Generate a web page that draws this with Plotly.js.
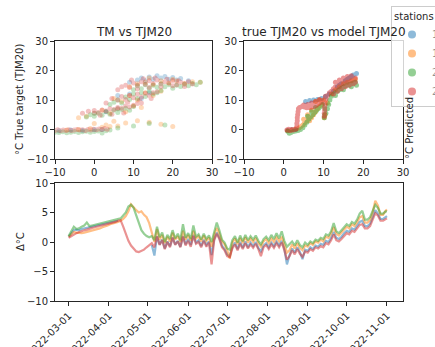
<!DOCTYPE html>
<html><head><meta charset="utf-8">
<script src="https://cdn.plot.ly/plotly-3.0.1.min.js"></script>
<style>html,body{margin:0;padding:0;background:#fff;overflow:hidden;width:435px;height:347px}#plot{width:480px;height:347px}</style>
</head><body><div id="plot"></div>
<script>
const stations = ['1101', '1701', '2001', '2701'];
const colors = ['#1f77b4', '#ff7f0e', '#2ca02c', '#d62728'];

// ---- TM vs TJM20 (top-left) ----
const tmBlue = [-9,-6,-3,0,2, 0,3,6, 6,9,12,14, 9,11,12,13,14,15,16,17,18,19,20,21,22,24];
const tjBlue = [-0.4,-0.2,-0.3,-0.1,0.0, 5.5,6.0,7.0, 11.5,12.0,10.5,12.5, 16.0,16.8,17.5,16.5,17.8,17.0,18.2,17.5,18.0,17.0,17.6,16.8,17.3,16.5];
const tmOrange = [-7,-4,-1,2,4,6, 0,3,5,8,11,14,17,20, -4,-2,0,2,4,6,8,10,12, 5,7,9,11,13,15,17, 9,11,13,15,17,19,21,23,25,27,14,20];
const tjOrange = [-0.2,0.0,0.3,0.8,1.0,1.2, 2.0,1.5,2.8,2.2,3.0,2.5,1.8,1.0, 4.0,4.5,5.5,6.5,5.5,7.0,6.0,8.0,7.5, 10.5,9.5,11.5,10.0,12.5,11.5,13.0, 14.5,15.5,16.0,15.2,16.5,15.8,16.4,15.6,16.2,16.0,17.5,17.0];
const tmGreen = [-10,-9,-8,-7,-6,-5,-4,-3,-2,-1,0,1,2,3,4, 6,10,14,18, -2,-1,0,1,2,3,4,5,6,7,8,9,10, 4,5,6,7,8,9,10,11,12,13,14,15,16,17, 10,11,12,13,14,15,16,17,18,19,20,21,22,23,24,25,26,27];
const tjGreen = [-0.9,-1.0,-0.8,-1.1,-0.9,-0.7,-1.0,-0.8,-0.6,-0.9,-0.7,-0.5,-1.2,-0.4,-0.2, 0.5,1.2,2.0,1.5, 4.2,5.0,4.5,5.5,4.8,6.0,5.2,6.5,5.8,6.8,7.2,6.5,7.8, 8.5,9.2,10,9.0,11.0,10.2,12.0,10.5,12.5,11.2,13.0,12.0,12.5,13.2, 13.5,14.8,13.8,15.2,14.0,15.0,14.3,15.5,14.5,15.2,14.0,15.0,14.6,15.3,14.8,15.6,15.2,16.0];
const tmRed = [-10,-9.3,-8.6,-7.9,-7.2,-6.5,-5.8,-5.1,-4.4,-3.7,-3,-2.3,-1.6,-0.9,-0.2,0.5,1.2,1.9,2.6,3.3,
  -3,-1.5,0,1,2,3,4,5,6,7,8,9,10,11,12,1.5,4.5,7.5,
  3,4.5,6,7,8,9,10,11,12,13,14,15,16,8.5,11.5,14.5,
  6,7,8,9,10,11,12,13,14,15,16,17,18,19,20,21,22,23,24,25,9.5,12.5,15.5,18.5,21.5,11,14,17,20,23];
const tjRed = [-0.3,-0.1,-0.4,-0.2,-0.3,-0.1,-0.3,-0.2,0.0,-0.2,-0.1,-0.3,0.0,-0.2,0.1,-0.1,0.2,0.0,0.3,0.1,
  5.5,6.2,6.4,5.8,6.6,6.3,7.0,6.8,7.5,7.2,8.0,7.6,8.2,8.8,9.0,4.8,5.2,5.6,
  9.0,10.5,10.0,11.2,10.2,11.5,10.8,12.0,11.0,12.3,11.5,12.5,12.8,9.2,9.8,10.5,
  13.5,14.5,15.0,14.2,15.8,15.0,16.2,15.3,16.5,15.6,16.8,15.4,16.2,15.8,16.6,15.2,16.0,15.5,16.2,15.4,16.8,17.2,17.5,17.0,16.5,13.8,14.2,14.5,14.8,14.6];

// ---- true TJM20 vs model TJM20 (top-right) ----
const trueBlue = [1,2,3,5.5,6.5,7.5,8.5,9.5,10.5,11.5,12.5,13.5,14.5,15.5,16.5,17.5,18.3,17,16,14];
const predBlue = [-0.3,-0.1,0,9.5,9.8,10,10.2,10.5,11.2,12,13,14.5,15.5,16.5,17.5,18.5,19,18,17,15];
const trueOrange = [1,2,3,3.8,4.3,4.8,5.2,5.6,6,6.5,7,7.5,8,5,6,7,8.5,9,9.5,10,10.2,10.4,11,12,13,14,15,16,17,18,8,9];
const predOrange = [-0.4,-0.2,0.2,0.5,1,1.5,2.2,2.8,3.5,3,4,5,6,3.5,5,6.5,7,8,8.5,10,4,5,9,12,13.5,14.5,15.5,16,16.5,17,9.5,10];
const trueGreen = [1,1.4,1.8,2.4,3,3.6,4.2, 4.8,5.3,5.8,6.3,6.8,7.3,7.8,8.3,8.8,9.3,9.8,6,7,8, 10.2,10.6,11,11.3,11.6,12,10.3,10.4, 12.5,13,13.5,14,14.5,15,15.5,16,16.5,17,17.5,18,18.3,17,15,13];
const predGreen = [-0.6,-1.3,-1.0,-0.7,-0.5,-0.3,0, 0.6,1.5,2.5,3.5,4.3,5.0,5.8,6.5,7.2,7.8,8.5,4.5,6,7.5, 4,5.5,7,8.5,10,11.3,5,7, 12,12.5,13,13.5,14,14.3,14.8,15,15.3,15.5,15.8,16,15,14.5,13.5,11.5];
const trueRed = [0.8,1.2,1.6,2.0,2.4,2.8,3.1, 3.3,3.3,3.4,3.4,3.5,3.6,3.7,
  4,4.6,5.2,5.8,6.4,7,7.6,8.2,8.8,9.4,10,10.6,6,7,8,9,5,
  10.2,10.2,10.3,10.3,10.4,10.4,10.5,10.5,
  11,11.5,12,12.5,13,13.5,14,14.5,15,15.5,16,16.5,17,17.5,18,12.5,13.5,14.5,15.5,16.5,17.5,13,14,15,16,17,18];
const predRed = [-0.2,0.1,-0.3,0.0,-0.2,0.1,0.2, 1,2,3,4,5,6,7,
  7.5,7.8,7.6,7.4,7.5,7.6,7.8,8.2,8.8,9.2,9.8,10.4,8.5,9,9.5,10.2,8.3,
  4.5,5.5,6.5,7.5,8.5,9.5,10.5,11.3,
  11.5,12.5,13,13.8,14.5,14,15.5,15,16.2,15.5,16.8,16,17.3,16.5,17.5,12,13,13.8,14.5,15,15.5,16,16.8,17.5,18,18.2,16];

// ---- Delta over time (bottom) ----
const monthDays = [
'03-01','03-03','03-05','03-07','03-09','03-11','03-13','03-15','03-17','03-19','03-21','03-23','03-25','03-27','03-29','03-31',
'04-02','04-04','04-06','04-08','04-10','04-12','04-14','04-16','04-18','04-20','04-22','04-24','04-26','04-28','04-30',
'05-02','05-04','05-06','05-08','05-10','05-12','05-14','05-16','05-18','05-20','05-22','05-24','05-26','05-28','05-30',
'06-01','06-03','06-05','06-07','06-09','06-11','06-13','06-15','06-17','06-19','06-21','06-23','06-25','06-27','06-29',
'07-01','07-03','07-05','07-07','07-09','07-11','07-13','07-15','07-17','07-19','07-21','07-23','07-25','07-27','07-29','07-31',
'08-02','08-04','08-06','08-08','08-10','08-12','08-14','08-16','08-18','08-20','08-22','08-24','08-26','08-28','08-30',
'09-01','09-03','09-05','09-07','09-09','09-11','09-13','09-15','09-17','09-19','09-21','09-23','09-25','09-27','09-29',
'10-01','10-03','10-05','10-07','10-09','10-11','10-13','10-15','10-17','10-19','10-21','10-23','10-25','10-27','10-29','10-31','11-01'];
const dates = monthDays.map(d => '2022-' + d);

const dBlue = [
0.9,1.5,2.0,2.1,2.0,2.2,2.3,2.4,2.5,2.6,2.7,2.8,2.9,3.0,3.1,3.2,
3.3,3.4,3.5,3.6,null,null,null,null,null,null,null,null,null,null,null,
null,-0.5,-2.3,1.0,-0.4,0.4,-1.1,0.1,-0.7,0.8,-0.4,0.2,-0.8,1.0,-0.4,
0.5,-0.5,1.2,-0.1,0.3,-0.7,0.4,-0.5,0.1,-2.2,0.5,1.6,0.7,-0.6,-1.2,
-2.1,-2.4,-0.8,-0.1,-1.2,0.0,-1.0,0.1,-0.9,-0.1,-0.7,0.0,-1.0,-1.6,-0.6,-0.2,
-0.9,-0.1,-0.7,0.1,-0.6,0.2,-1.1,-3.8,-2.2,-1.1,-1.8,-0.9,-1.7,-2.9,-1.3,
-1.5,-0.9,-1.2,-0.6,-0.8,-0.3,-0.5,0.2,0.0,0.7,1.7,0.7,0.5,0.9,1.5,
1.9,1.7,2.3,2.1,2.7,3.4,3.6,2.7,2.7,3.1,4.2,5.4,4.8,3.9,3.9,4.3,4.4];
const dOrange = [
0.9,1.3,1.7,1.6,1.5,1.5,1.6,1.7,1.8,1.9,2.0,2.2,2.3,2.5,2.6,2.8,
3.0,3.1,3.3,3.4,3.6,3.9,4.4,5.2,6.4,5.8,5.4,5.0,5.2,4.6,4.2,
3.2,1.8,0.0,2.2,0.4,1.2,-0.2,0.9,0.1,1.6,0.4,1.0,0.0,1.9,0.4,
1.2,0.2,1.9,0.6,1.0,0.1,1.1,0.2,0.8,-0.8,1.2,2.4,1.4,0.1,-0.4,
-1.4,-2.8,-0.1,0.6,-0.4,0.7,-0.2,0.8,-0.1,0.6,0.0,0.7,-0.2,-0.8,0.1,0.5,
-0.2,0.6,0.0,0.8,0.1,0.9,-0.4,-1.8,-1.4,-0.4,-1.1,-0.2,-1.0,-1.4,-0.6,
-0.8,-0.2,-0.5,0.1,-0.1,0.4,0.1,0.9,0.7,1.4,2.5,1.4,1.1,1.6,2.2,
2.6,2.3,3.0,2.7,3.3,4.2,4.4,3.3,3.3,3.7,5.0,7.0,6.2,4.6,4.6,5.3,5.5];
const dGreen = [
1.0,1.8,2.6,2.2,2.3,2.6,2.8,3.3,2.7,2.8,2.9,3.0,3.1,3.2,3.3,3.4,
3.5,3.6,3.7,3.9,4.0,4.5,5.0,6.0,6.3,5.8,4.5,3.0,2.0,1.4,1.0,
0.8,1.0,0.3,2.6,0.8,1.6,0.0,1.2,0.5,2.0,0.6,1.4,0.3,3.0,0.7,
1.5,0.5,2.8,0.9,1.3,0.4,1.4,0.5,1.1,0.0,1.6,3.3,2.0,0.4,-0.1,
-1.1,-1.3,0.3,1.0,-0.1,1.1,0.1,1.2,0.3,1.0,0.4,1.1,0.2,-0.4,0.5,0.9,
0.3,1.2,0.5,1.5,0.6,1.8,0.2,-0.8,-0.4,0.1,-0.6,0.3,-0.5,-0.9,-0.1,
-0.5,0.1,-0.2,0.4,0.2,0.7,0.5,1.3,1.1,1.8,3.2,1.8,1.5,2.0,2.6,
3.0,2.7,3.4,3.1,3.8,4.8,5.3,3.8,3.8,4.2,5.3,6.3,5.8,4.8,4.8,5.2,5.2];
const dRed = [
0.7,1.0,1.3,1.5,1.7,1.9,2.0,2.1,2.3,2.4,2.5,2.6,2.7,2.8,2.9,3.0,
3.1,3.2,3.4,3.6,3.7,2.6,1.2,0.2,-0.6,-1.2,-1.6,-1.7,-1.5,-1.3,-0.9,
-0.6,-0.2,-0.9,0.9,-0.5,0.3,-1.2,0.0,-0.9,0.7,-0.5,0.1,-0.9,0.9,-0.6,
0.2,-0.8,1.0,-0.3,0.0,-0.9,0.2,-0.8,-0.1,-3.8,0.3,1.4,0.5,-0.9,-1.4,
-2.4,-2.6,-1.1,-0.4,-1.4,-0.3,-1.2,-0.2,-1.1,-0.4,-1.0,-0.3,-1.2,-2.4,-0.9,-0.5,
-1.2,-0.4,-1.0,-0.2,-0.9,-0.1,-1.4,-3.0,-2.4,-1.4,-2.1,-1.2,-2.0,-2.5,-1.6,
-1.8,-1.2,-1.5,-0.9,-1.1,-0.7,-0.9,-0.2,-0.4,0.3,1.3,0.3,0.1,0.5,1.1,
1.5,1.3,1.9,1.7,2.3,2.9,3.0,2.3,2.3,2.7,3.8,4.9,4.5,3.6,3.6,3.9,4.0];

const leftX = [tmBlue, tmOrange, tmGreen, tmRed];
const leftY = [tjBlue, tjOrange, tjGreen, tjRed];
const rightX = [trueBlue, trueOrange, trueGreen, trueRed];
const rightY = [predBlue, predOrange, predGreen, predRed];
const deltas = [dBlue, dOrange, dGreen, dRed];

const traces = [];
for (let i = 0; i < 4; i++) {
  traces.push({type:'scatter', mode:'markers', x:leftX[i], y:leftY[i], xaxis:'x', yaxis:'y',
    name:stations[i], showlegend:false, opacity:0.28,
    marker:{color:colors[i], size:5, line:{width:0}}});
}
for (let i = 0; i < 4; i++) {
  traces.push({type:'scatter', mode:'markers', x:rightX[i], y:rightY[i], xaxis:'x2', yaxis:'y2',
    name:stations[i], showlegend:false, opacity:0.5,
    marker:{color:colors[i], size:5, line:{width:0}}});
}
for (let i = 0; i < 4; i++) {
  traces.push({type:'scatter', mode:'lines', x:dates, y:deltas[i], xaxis:'x3', yaxis:'y3',
    name:stations[i], showlegend:false, opacity:0.5, connectgaps:false,
    line:{color:colors[i], width:2.2}});
}
// legend entries: same station data, shown only in the legend (faded symbol like the reference)
for (let i = 0; i < 4; i++) {
  traces.push({type:'scatter', mode:'markers', x:leftX[i], y:leftY[i], xaxis:'x', yaxis:'y',
    name:stations[i], visible:'legendonly', showlegend:true,
    marker:{color:colors[i], size:8, line:{width:0}}});
}

const W = 480, H = 347;
const fx = p => p / W, fy = p => 1 - p / H;
const FAM = 'DejaVu Sans, sans-serif';
const font = {family:FAM, size:10, color:'#262626'};
const ax = (extra) => Object.assign({showline:true, mirror:true, linecolor:'#262626', linewidth:1,
  ticks:'outside', ticklen:4, tickcolor:'#262626', showgrid:false, zeroline:false,
  tickfont:{family:FAM, size:10, color:'#262626'}}, extra);

const layout = {
  width:W, height:H, margin:{l:0, r:0, t:0, b:0, autoexpand:false},
  paper_bgcolor:'#fff', plot_bgcolor:'#fff', font:font,
  xaxis: ax({domain:[fx(55), fx(212)], range:[-10,30], tickvals:[-10,0,10,20,30], anchor:'y'}),
  yaxis: ax({domain:[fy(159), fy(41)], range:[-10,30], tickvals:[-10,0,10,20,30], anchor:'x'}),
  xaxis2: ax({domain:[fx(244), fx(403)], range:[-10,30], tickvals:[-10,0,10,20,30], anchor:'y2'}),
  yaxis2: ax({domain:[fy(159), fy(41)], range:[-10,30], tickvals:[-10,0,10,20,30], anchor:'x2'}),
  xaxis3: ax({domain:[fx(55), fx(403)], type:'date', range:['2022-02-18 12:00','2022-11-13 08:00'],
    tick0:'2022-03-01', dtick:'M1', tickformat:'%Y-%m-%d', tickangle:-45, anchor:'y3'}),
  yaxis3: ax({domain:[fy(301), fy(183)], range:[-10,10], tickvals:[-10,-5,0,5,10], anchor:'x3'}),
  showlegend:true,
  legend:{x:fx(391), y:fy(6), xanchor:'left', yanchor:'top', xref:'paper', yref:'paper',
    bgcolor:'rgba(255,255,255,0.8)', bordercolor:'#cccccc', borderwidth:1, itemsizing:'trace',
    title:{text:'stations', font:{family:FAM, size:10, color:'#262626'}},
    font:{family:FAM, size:10, color:'#262626'}, tracegroupgap:0},
  annotations:[
    {text:'TM vs TJM20', x:fx(133.5), y:fy(31.5), xref:'paper', yref:'paper', xanchor:'center', yanchor:'middle', showarrow:false, font:{family:FAM, size:12, color:'#262626'}},
    {text:'true TJM20 vs model TJM20', x:fx(323.5), y:fy(31.5), xref:'paper', yref:'paper', xanchor:'center', yanchor:'middle', showarrow:false, font:{family:FAM, size:12, color:'#262626'}},
    {text:'°C True target (TJM20)', x:fx(20), y:fy(100), xref:'paper', yref:'paper', xanchor:'center', yanchor:'middle', textangle:-90, showarrow:false, font:{family:FAM, size:10, color:'#262626'}},
    {text:'Δ°C', x:fx(20), y:fy(242), xref:'paper', yref:'paper', xanchor:'center', yanchor:'middle', textangle:-90, showarrow:false, font:{family:FAM, size:10, color:'#262626'}},
    {text:'°C Predicted', x:fx(409), y:fy(128), xref:'paper', yref:'paper', xanchor:'center', yanchor:'middle', textangle:-90, showarrow:false, font:{family:FAM, size:10, color:'#262626'}}
  ]
};
Plotly.newPlot('plot', traces, layout, {staticPlot:true, displayModeBar:false});
</script></body></html>
